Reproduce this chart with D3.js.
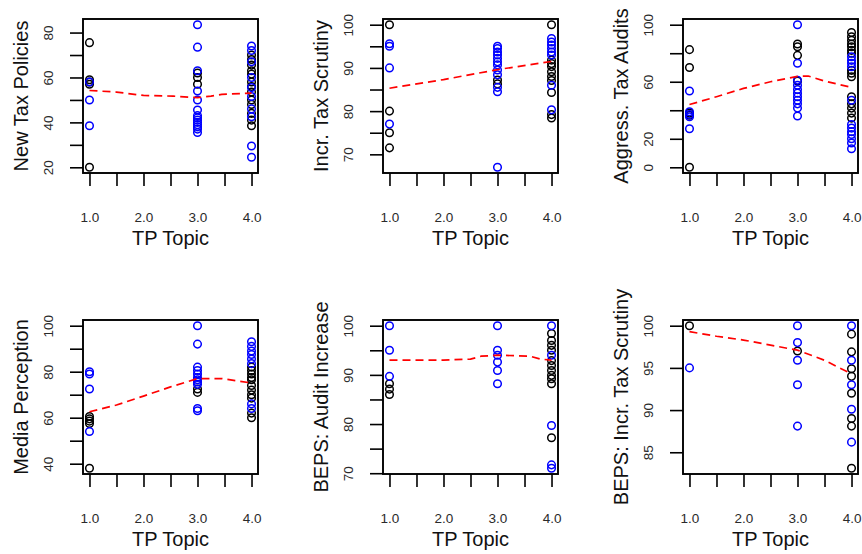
<!DOCTYPE html>
<html>
<head>
<meta charset="utf-8">
<script src="https://cdn.jsdelivr.net/npm/d3@7"></script>
<style>
  html, body { margin: 0; padding: 0; background: #fff; }
  svg { display: block; }
</style>
</head>
<body>
<svg id="chart" width="862" height="554"></svg>
<script>
// ---------------- data ----------------
const xTickValues = [1, 1.5, 2, 2.5, 3, 3.5, 4];
const xLabelValues = [1, 2, 3, 4];
const xTitle = "TP Topic";

const yTitles = ["New Tax Policies", "Incr. Tax Scrutiny", "Aggress. Tax Audits",
                 "Media Perception", "BEPS: Audit Increase", "BEPS: Incr. Tax Scrutiny"];

const yTickValues = [
  [20, 30, 40, 50, 60, 70, 80],
  [70, 75, 80, 85, 90, 95, 100],
  [0, 20, 40, 60, 80, 100],
  [40, 50, 60, 70, 80, 90, 100],
  [70, 75, 80, 85, 90, 95, 100],
  [85, 90, 95, 100]
];
const yLabelValues = [
  [20, 40, 60, 80],
  [70, 80, 90, 100],
  [0, 20, 60, 100],
  [40, 60, 80, 100],
  [70, 80, 90, 100],
  [85, 90, 95, 100]
];

// panel 1: New Tax Policies
const p1Black = [[1,75.5],[1,57],[1,58],[1,59],[1,20],[3,62],[3,60],[3,57],
  [4,70],[4,68],[4,65.5],[4,63],[4,61.5],[4,58],[4,56],[4,53.5],[4,50],[4,48],[4,44],[4,41],[4,38.5]];
const p1Blue = [[1,58],[1,50],[1,38.5],[3,83.5],[3,73.5],[3,63],[3,54],[3,50],[3,45.5],
  [3,43],[3,42],[3,41],[3,40],[3,39],[3,38],[3,37],[3,35.5],
  [4,74],[4,72],[4,67],[4,60],[4,55.5],[4,51.5],[4,46],[4,42.5],[4,29.5],[4,24.5]];
const p1Smooth = [[1,54.2],[1.5,53.5],[2,52],[2.55,51.7],[3,51],[3.25,51.7],[3.45,52.5],[4,53]];

// panel 2: Incr. Tax Scrutiny
const p2Black = [[1,100],[1,80],[1,75],[1,71.5],[3,87.2],[3,86.3],
  [4,100],[4,91.8],[4,91],[4,90.3],[4,89.1],[4,88],[4,87.1],[4,84.3],[4,79.2],[4,78.4]];
const p2Blue = [[1,95.6],[1,95],[1,90],[1,77],
  [3,95],[3,94.5],[3,93.7],[3,93],[3,92.2],[3,91.4],[3,90.7],[3,89.5],[3,88.4],[3,85.5],[3,84.5],[3,67],
  [4,96.8],[4,96],[4,95.3],[4,94.5],[4,93.7],[4,93],[4,86],[4,80.3]];
const p2Smooth = [[1,85.3],[2,87.3],[3,89.6],[4,91.5]];

// panel 3: Aggress. Tax Audits
const p3Black = [[1,82.5],[1,70],[1,38],[1,36.5],[1,0],[3,86.5],[3,84.5],[3,78.5],[3,60.5],
  [4,94.5],[4,91.5],[4,89],[4,86.5],[4,84.5],[4,82],[4,80],[4,68],[4,66],[4,63.5],
  [4,49.5],[4,44.5],[4,41.5],[4,38],[4,34.5]];
const p3Blue = [[1,53.5],[1,39],[1,37],[1,35.5],[1,27],
  [3,100],[3,73],[3,61],[3,57.5],[3,54.5],[3,52],[3,49.5],[3,47],[3,44.5],[3,41.5],[3,36],
  [4,77.5],[4,75],[4,73],[4,70.5],[4,47],[4,30],[4,27.5],[4,25],[4,23],[4,20],[4,17],[4,13]];
const p3Smooth = [[1,44],[1.5,49.5],[2,55.3],[2.5,60],[3,63.8],[3.2,64],[3.5,60.5],[4,56]];

// panel 4: Media Perception
const p4Black = [[1,60.5],[1,59.5],[1,58.5],[1,57.5],[1,38],[3,72.5],[3,71],
  [4,82],[4,80.5],[4,79],[4,77.5],[4,76.5],[4,74],[4,72],[4,70],[4,68.5],[4,62],[4,60]];
const p4Blue = [[1,80],[1,79],[1,72.5],[1,54],
  [3,100],[3,92],[3,82],[3,80.5],[3,79],[3,77.5],[3,76.5],[3,75.5],[3,74.5],[3,64],[3,63],
  [4,93],[4,91],[4,89],[4,87.5],[4,85.5],[4,83.5],[4,66],[4,64]];
const p4Smooth = [[1,62.6],[1.5,65.5],[2,69.4],[2.5,73.4],[3,77],[3.45,77],[4,75.1]];

// panel 5: BEPS: Audit Increase
const p5Black = [[1,88.2],[1,87.1],[1,86],
  [4,98.4],[4,97],[4,96],[4,95],[4,92.9],[4,91.9],[4,90.9],[4,89.9],[4,89.2],[4,88.2],[4,77.2]];
const p5Blue = [[1,100],[1,95],[1,89.7],[3,100],[3,95],[3,94],[3,92.6],[3,90.9],[3,88.2],
  [4,100],[4,94],[4,79.7],[4,71.7],[4,71]];
const p5Smooth = [[1,93],[2,93],[2.5,93.2],[2.7,93.8],[3,94],[3.6,93.8],[3.8,93.2],[4,93]];

// panel 6: BEPS: Incr. Tax Scrutiny
const p6Black = [[1,100],[3,97],[4,99],[4,96.9],[4,94.9],[4,94],[4,92],[4,89],[4,88.1],[4,83.1]];
const p6Blue = [[1,95],[3,100],[3,98],[3,95.9],[3,93],[3,88.1],[4,100],[4,95.9],[4,93],[4,90.1],[4,86.2]];
const p6Smooth = [[1,99.3],[1.5,98.75],[2,98.3],[2.5,97.7],[3,97.1],[3.5,95.9],[4,94.3]];

const blackSets = [p1Black, p2Black, p3Black, p4Black, p5Black, p6Black];
const blueSets = [p1Blue, p2Blue, p3Blue, p4Blue, p5Blue, p6Blue];
const smoothSets = [p1Smooth, p2Smooth, p3Smooth, p4Smooth, p5Smooth, p6Smooth];

// ---------------- layout ----------------
const colLeft = [83, 383, 683];
const rowTop = [19, 320];
const W = 175, H = 154;
const FONT = "'Liberation Sans', Arial, Helvetica, sans-serif";

const svg = d3.select("#chart");
svg.append("rect").attr("width", 862).attr("height", 554).attr("fill", "#fff");

function padExtent(ext) {
  const r = ext[1] - ext[0];
  return [ext[0] - 0.04 * r, ext[1] + 0.04 * r];
}

for (let i = 0; i < 6; i++) {
  const left = colLeft[i % 3];
  const top = rowTop[Math.floor(i / 3)];
  const all = blackSets[i].concat(blueSets[i]);

  const x = d3.scaleLinear().domain(padExtent(d3.extent(all, d => d[0]))).range([0, W]);
  const y = d3.scaleLinear().domain(padExtent(d3.extent(all, d => d[1]))).range([H, 0]);

  const g = svg.append("g").attr("transform", `translate(${left},${top})`);

  // x axis
  const labsX = xLabelValues;
  const xAxis = d3.axisBottom(x).tickValues(xTickValues).tickSize(13).tickPadding(26)
    .tickFormat(d => labsX.includes(d) ? d3.format(".1f")(d) : "");
  const gx = g.append("g").attr("transform", `translate(0,${H})`).call(xAxis);
  gx.select(".domain").remove();
  gx.selectAll(".tick line").attr("stroke", "#000").attr("stroke-width", 1.6);
  gx.selectAll(".tick text").attr("font-family", FONT).attr("font-size", 13.5).attr("fill", "#2a2a2a");

  // y axis
  const labsY = yLabelValues[i];
  const yAxis = d3.axisLeft(y).tickValues(yTickValues[i]).tickSize(13)
    .tickFormat(d => labsY.includes(d) ? String(d) : "");
  const gy = g.append("g").call(yAxis);
  gy.select(".domain").remove();
  gy.selectAll(".tick line").attr("stroke", "#000").attr("stroke-width", 1.6);
  gy.selectAll(".tick text")
    .attr("x", null).attr("dy", null)
    .attr("transform", "translate(-30,0) rotate(-90)")
    .attr("text-anchor", "middle")
    .attr("font-family", FONT).attr("font-size", 13.5).attr("fill", "#2a2a2a");

  // points
  g.selectAll("circle.blk").data(blackSets[i]).join("circle")
    .attr("class", "blk")
    .attr("cx", d => x(d[0])).attr("cy", d => y(d[1])).attr("r", 3.8)
    .attr("fill", "none").attr("stroke", "#000").attr("stroke-width", 1.5);
  g.selectAll("circle.blu").data(blueSets[i]).join("circle")
    .attr("class", "blu")
    .attr("cx", d => x(d[0])).attr("cy", d => y(d[1])).attr("r", 3.8)
    .attr("fill", "none").attr("stroke", "#0000ff").attr("stroke-width", 1.5);

  // smooth line
  const line = d3.line().x(d => x(d[0])).y(d => y(d[1]));
  g.append("path").datum(smoothSets[i]).attr("d", line)
    .attr("fill", "none").attr("stroke", "#ff0000").attr("stroke-width", 1.7)
    .attr("stroke-dasharray", "8,5");

  // box
  g.append("rect").attr("x", 0).attr("y", 0).attr("width", W).attr("height", H)
    .attr("fill", "none").attr("stroke", "#000").attr("stroke-width", 1.9);

  // titles
  g.append("text").attr("x", W / 2).attr("y", H + 72)
    .attr("text-anchor", "middle").attr("font-family", FONT).attr("font-size", 20)
    .attr("fill", "#111").text(xTitle);
  g.append("text")
    .attr("transform", `translate(-55,${H / 2}) rotate(-90)`)
    .attr("text-anchor", "middle").attr("font-family", FONT).attr("font-size", 20)
    .attr("fill", "#111").text(yTitles[i]);
}
</script>
</body>
</html>
